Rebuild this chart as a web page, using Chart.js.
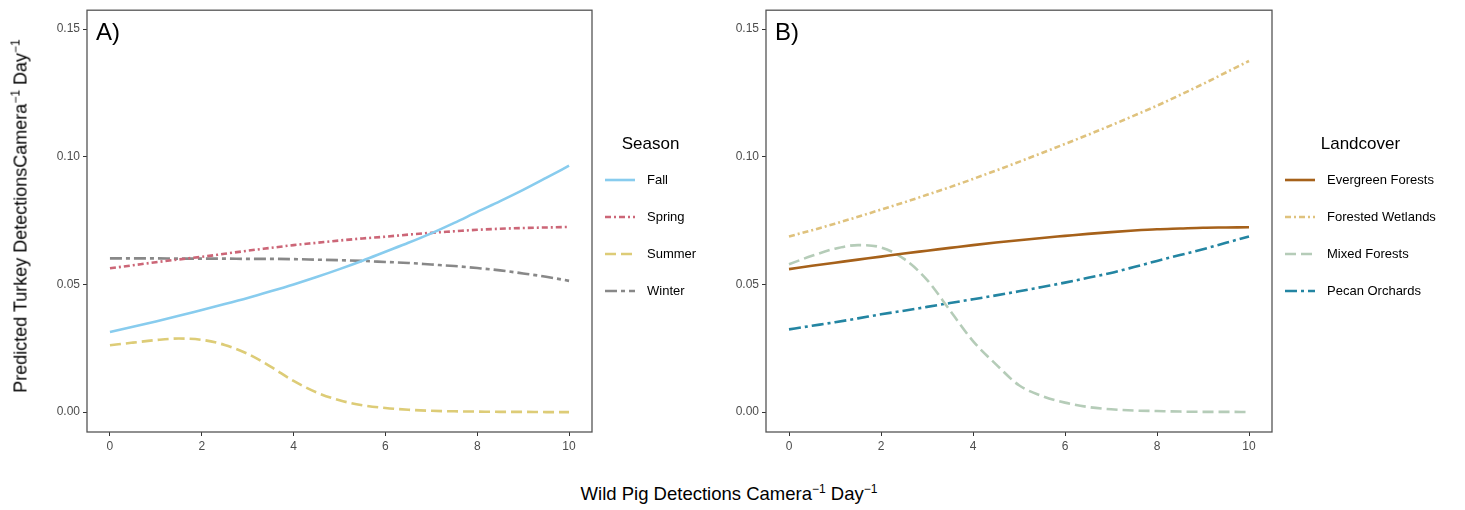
<!DOCTYPE html>
<html>
<head>
<meta charset="utf-8">
<script src="https://cdn.jsdelivr.net/npm/chart.js@4.4.0/dist/chart.umd.min.js"></script>
<style>
  body { margin: 0; background: #fff; width: 1465px; height: 510px; position: relative; overflow: hidden; font-family: "Liberation Sans", Arial, sans-serif; }
  canvas { position: absolute; top: 0; }
  #canvasA { left: 30px; }
  #canvasB { left: 720px; }
  .axis-title { position: absolute; white-space: nowrap; font-size: 18px; color: #000; }
  .axis-title sup { font-size: 12px; vertical-align: 7px; line-height: 0; }
  #yTitle { left: 21px; top: 216px; transform: translate(-50%, -50%) rotate(-90deg); }
  #xTitle { left: 729px; top: 494px; transform: translate(-50%, -50%); font-size: 18.5px; }
</style>
</head>
<body>
<canvas id="canvasA" width="690" height="470"></canvas>
<canvas id="canvasB" width="745" height="470"></canvas>
<div id="yTitle" class="axis-title">Predicted Turkey DetectionsCamera<sup>−1</sup> Day<sup>−1</sup></div>
<div id="xTitle" class="axis-title">Wild Pig Detections Camera<sup>−1</sup> Day<sup>−1</sup></div>
<script>
// wild pig detections (x), shared by every curve
const pigRate = [0, 0.5, 1, 1.5, 2, 2.5, 3, 3.5, 4, 4.5, 5, 5.5, 6, 6.5, 7, 7.5, 8, 8.5, 9, 9.5, 10];

// panel A - season
const seasons = ['Fall', 'Spring', 'Summer', 'Winter'];
const fall   = [0.0314, 0.0334, 0.0355, 0.0377, 0.0400, 0.0423, 0.0447, 0.0473, 0.0500, 0.0529, 0.0560, 0.0593, 0.0628, 0.0663, 0.0700, 0.0741, 0.0784, 0.0826, 0.0870, 0.0917, 0.0965];
const spring = [0.0563, 0.0575, 0.0587, 0.0598, 0.0608, 0.0620, 0.0632, 0.0643, 0.0654, 0.0663, 0.0672, 0.0680, 0.0687, 0.0695, 0.0702, 0.0708, 0.0714, 0.0718, 0.0721, 0.0723, 0.0725];
const summer = [0.0262, 0.0272, 0.0282, 0.0288, 0.0283, 0.0263, 0.0228, 0.0178, 0.0122, 0.0077, 0.0046, 0.0027, 0.0016, 0.0009, 0.0005, 0.0003, 0.0002, 0.0001, 0.0001, 0.0000, 0.0000];
const winter = [0.0602, 0.0602, 0.0602, 0.0601, 0.0601, 0.0601, 0.0600, 0.0600, 0.0599, 0.0597, 0.0595, 0.0592, 0.0588, 0.0584, 0.0578, 0.0572, 0.0564, 0.0555, 0.0543, 0.0530, 0.0514];

// panel B - landcover
const landcovers = ['Evergreen Forests', 'Forested Wetlands', 'Mixed Forests', 'Pecan Orchards'];
const evergreen = [0.0560, 0.0573, 0.0585, 0.0597, 0.0609, 0.0621, 0.0632, 0.0643, 0.0654, 0.0664, 0.0673, 0.0682, 0.0690, 0.0698, 0.0705, 0.0711, 0.0716, 0.0719, 0.0722, 0.0723, 0.0724];
const wetlands  = [0.0688, 0.0712, 0.0738, 0.0765, 0.0793, 0.0821, 0.0851, 0.0881, 0.0913, 0.0946, 0.0980, 0.1015, 0.1050, 0.1086, 0.1123, 0.1161, 0.1200, 0.1242, 0.1285, 0.1330, 0.1375];
const mixed     = [0.0579, 0.0612, 0.0640, 0.0654, 0.0645, 0.0600, 0.0518, 0.0398, 0.0278, 0.0187, 0.0105, 0.0063, 0.0037, 0.0020, 0.0011, 0.0006, 0.0004, 0.0002, 0.0001, 0.0001, 0.0000];
const pecan     = [0.0324, 0.0338, 0.0352, 0.0367, 0.0383, 0.0397, 0.0412, 0.0427, 0.0442, 0.0457, 0.0473, 0.0490, 0.0507, 0.0526, 0.0545, 0.0568, 0.0592, 0.0615, 0.0638, 0.0663, 0.0688];

// tick labels
const xTicks = [0, 2, 4, 6, 8, 10];
const yTicks = [0, 0.05, 0.10, 0.15];

const toPoints = (ys) => ys.map((y, i) => ({ x: pigRate[i], y }));

function line(label, values, color, dash) {
  return {
    label,
    data: toPoints(values),
    borderColor: color,
    backgroundColor: color,
    borderWidth: 2.6,
    borderDash: dash,
    pointRadius: 0,
    cubicInterpolationMode: 'monotone',
    fill: false
  };
}

// box around the panel, the A)/B) tag and a ggplot-like legend on the right
const panelDecor = {
  id: 'panelDecor',
  afterDatasetsDraw(chart, args, opts) {
    const { ctx, chartArea: a } = chart;
    ctx.save();
    ctx.strokeStyle = '#555';
    ctx.lineWidth = 1.3;
    ctx.strokeRect(a.left, a.top, a.right - a.left, a.bottom - a.top);

    ctx.fillStyle = '#000';
    ctx.font = '24px "Liberation Sans", Arial, sans-serif';
    ctx.textBaseline = 'middle';
    ctx.textAlign = 'left';
    ctx.fillText(opts.tag, a.left + 9, a.top + 23);

    // legend
    const keyX = a.right + 13, keyW = 30, labelX = a.right + 55;
    ctx.font = '13px "Liberation Sans", Arial, sans-serif';
    let maxW = 0;
    chart.data.datasets.forEach(ds => { maxW = Math.max(maxW, ctx.measureText(ds.label).width); });
    const boxCenter = (keyX + labelX + maxW) / 2;
    ctx.font = '17px "Liberation Sans", Arial, sans-serif';
    ctx.textAlign = 'center';
    ctx.fillText(opts.title, boxCenter, 144);
    ctx.font = '13px "Liberation Sans", Arial, sans-serif';
    ctx.textAlign = 'left';
    chart.data.datasets.forEach((ds, i) => {
      const y = 180 + i * 37;
      ctx.strokeStyle = ds.borderColor;
      ctx.lineWidth = ds.borderWidth;
      ctx.setLineDash(ds.borderDash || []);
      ctx.beginPath();
      ctx.moveTo(keyX, y);
      ctx.lineTo(keyX + keyW, y);
      ctx.stroke();
      ctx.setLineDash([]);
      ctx.fillStyle = '#000';
      ctx.fillText(ds.label, labelX, y);
    });
    ctx.restore();
  }
};

function makeChart(id, datasets, tag, title, yWidth, rightPad) {
  const tickFont = { family: '"Liberation Sans", Arial, sans-serif', size: 12 };
  const grid = { display: true, drawOnChartArea: false, drawTicks: true, tickLength: 4, tickColor: '#333', lineWidth: 1 };
  return new Chart(document.getElementById(id).getContext('2d'), {
    type: 'line',
    data: { datasets },
    options: {
      responsive: false,
      animation: false,
      devicePixelRatio: 1,
      layout: { padding: { left: 0, right: rightPad, top: 10, bottom: 0 } },
      plugins: {
        legend: { display: false },
        tooltip: { enabled: false },
        panelDecor: { tag, title }
      },
      scales: {
        x: {
          type: 'linear', min: -0.5, max: 10.5,
          grid, border: { display: false },
          ticks: { color: '#4d4d4d', font: tickFont, padding: 3, maxRotation: 0 },
          afterBuildTicks: (s) => { s.ticks = xTicks.map(v => ({ value: v })); },
          afterFit: (s) => { s.height = 38; }
        },
        y: {
          type: 'linear', min: -0.0078, max: 0.1574,
          grid, border: { display: false },
          ticks: { color: '#4d4d4d', font: tickFont, padding: 3, callback: (v) => v.toFixed(2) },
          afterBuildTicks: (s) => { s.ticks = yTicks.map(v => ({ value: v })); },
          afterFit: (s) => { s.width = yWidth; }
        }
      }
    },
    plugins: [panelDecor]
  });
}

makeChart('canvasA', [
  line(seasons[0], fall, '#88CCEE', []),
  line(seasons[1], spring, '#CC6677', [6, 3, 2, 3]),
  line(seasons[2], summer, '#DDCC77', [11, 5]),
  line(seasons[3], winter, '#888888', [12, 4, 4, 4])
], 'A)', 'Season', 57, 128);

makeChart('canvasB', [
  line(landcovers[0], evergreen, '#A6611A', []),
  line(landcovers[1], wetlands, '#DFC27D', [6, 3, 2, 3]),
  line(landcovers[2], mixed, '#B5CCB8', [11, 5]),
  line(landcovers[3], pecan, '#2385A2', [12, 4, 3, 4])
], 'B)', 'Landcover', 46, 193);
</script>
</body>
</html>
